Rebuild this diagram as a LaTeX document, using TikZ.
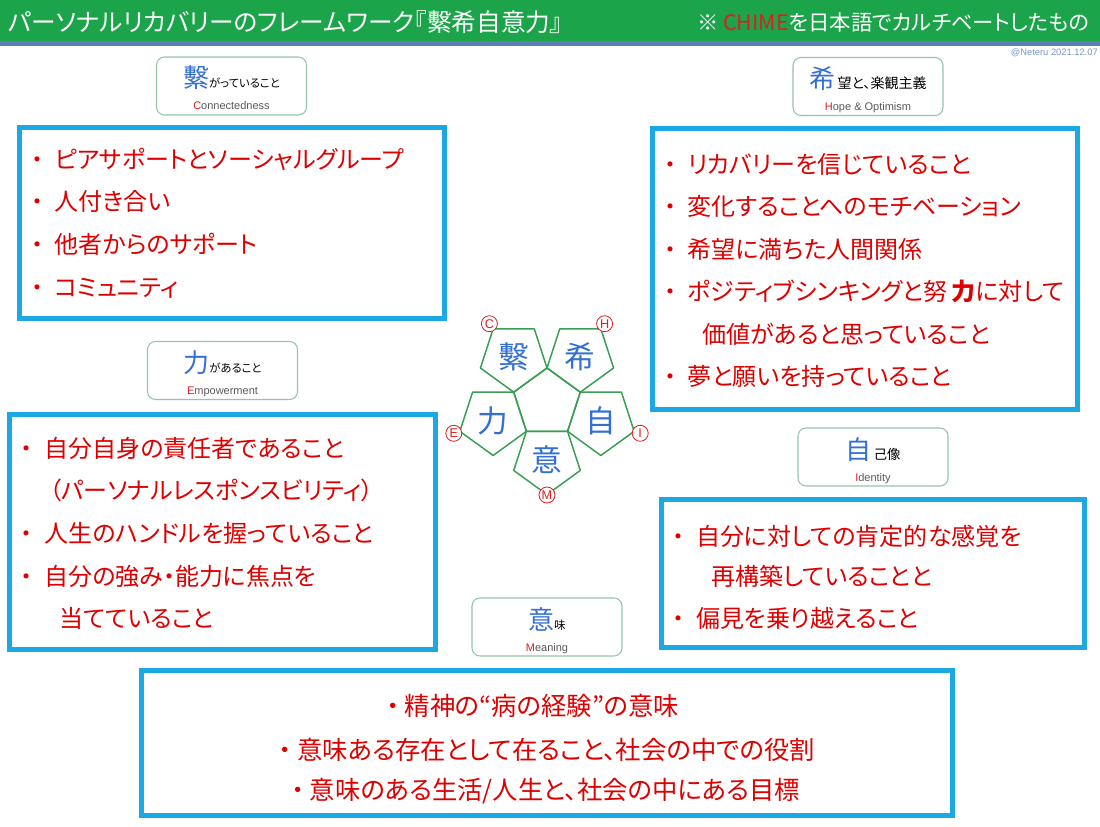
\documentclass[tikz,border=0pt]{standalone}
\usepackage{fontspec}
\setmainfont{Noto Sans CJK JP}[RawFeature=+palt]
\newfontfamily\enfont{Liberation Sans}
\usetikzlibrary{calc}
\definecolor{hdrgreen}{RGB}{28,164,74}
\definecolor{hdrstripe}{RGB}{90,125,180}
\definecolor{boxblue}{RGB}{28,168,226}
\definecolor{itemred}{RGB}{222,0,0}
\definecolor{kanjiblue}{RGB}{52,112,212}
\definecolor{pentgreen}{RGB}{56,158,82}
\definecolor{lblborder}{RGB}{150,196,170}
\definecolor{engray}{RGB}{90,90,90}
\definecolor{capred}{RGB}{220,30,30}
\definecolor{creditblue}{RGB}{120,150,200}
\newcommand\bul{\makebox[26.25pt][c]{・}}
\newcommand\cbul{・\hspace{4pt}}
\newcommand\contind{\hspace{37.5pt}}
\begin{document}
\begin{tikzpicture}[x=0.75pt,y=-0.75pt,
 bigbox/.style={draw=boxblue,line width=3.75pt,fill=white,inner sep=0pt},
 item/.style={anchor=base west,inner sep=0pt,text=itemred,font=\fontsize{18}{20}\selectfont},
 citem/.style={anchor=base,inner sep=0pt,text=itemred,font=\fontsize{19}{21}\selectfont},
 lblbox/.style={draw=lblborder,line width=0.8pt,rounded corners=6pt,fill=white,minimum width=112.5pt,minimum height=43.5pt,inner sep=0pt},
 lblone/.style={anchor=base,inner sep=0pt},
 lbltwo/.style={anchor=base,inner sep=0pt,text=engray,font=\enfont\fontsize{8.25}{9}\selectfont},
 pent/.style={draw=pentgreen,line width=1.1pt,line join=round},
 pk/.style={inner sep=0pt,text=kanjiblue,font=\fontsize{23}{24}\selectfont},
 lettercirc/.style={circle,draw=capred,line width=0.6pt,fill=white,minimum size=12pt,inner sep=0pt,text=capred,font=\enfont\fontsize{9.5}{10}\selectfont}
]
\useasboundingbox (0,0) rectangle (1100,827);
\fill[white] (0,0) rectangle (1100,827);
% header
\fill[hdrgreen] (0,0) rectangle (1100,41);
\fill[hdrstripe] (0,41) rectangle (1100,46);
\node[anchor=west,inner sep=0pt,text=white,font=\fontsize{18.5}{20}\selectfont] (title) at (8,22) {パーソナルリカバリーのフレームワーク『繫希自意力』};
\node[anchor=west,inner sep=0pt,text=white,font=\fontsize{16}{17}\selectfont] (subtitle) at (697,22) {※ \textcolor{capred}{CHIME}を日本語でカルチベートしたもの};
\node[anchor=east,inner sep=0pt,text=creditblue,font=\enfont\fontsize{7}{8}\selectfont] (credit) at (1098,53) {@Neteru 2021.12.07};

% big boxes
\node[bigbox,minimum width=318.4pt,minimum height=143.6pt] (bC) at (231.75,223.25) {};
\node[bigbox,minimum width=318.75pt,minimum height=210pt] (bH) at (865,269) {};
\node[bigbox,minimum width=319.5pt,minimum height=176.6pt] (bE) at (222,531.75) {};
\node[bigbox,minimum width=317.6pt,minimum height=111pt] (bI) at (873.25,573.5) {};
\node[bigbox,minimum width=608.25pt,minimum height=108.75pt] (bM) at (547,743) {};

% items: Connectedness
\node[item] (c1) at (19.5,169) {\bul ピアサポートとソーシャルグループ};
\node[item] (c2) at (19.5,210.7) {\bul 人付き合い};
\node[item] (c3) at (19.5,254) {\bul 他者からのサポート};
\node[item] (c4) at (19.5,297) {\bul コミュニティ};
% Hope
\node[item] (h1) at (652.5,174) {\bul リカバリーを信じていること};
\node[item] (h2) at (652.5,215.7) {\bul 変化することへのモチベーション};
\node[item] (h3) at (652.5,259) {\bul 希望に満ちた人間関係};
\node[item] (h4) at (652.5,300.7) {\bul ポジティブシンキングと努\,{\bfseries 力}に対して};
\node[item] (h5) at (652.5,344) {\contind 価値があると思っていること};
\node[item] (h6) at (652.5,385.7) {\bul 夢と願いを持っていること};
% Empowerment
\node[item] (e1) at (9.2,457.3) {\bul 自分自身の責任者であること};
\node[item] (e2) at (9.2,499) {\hspace{30pt}（パーソナルレスポンスビリティ）};
\node[item] (e3) at (9.2,542.3) {\bul 人生のハンドルを握っていること};
\node[item] (e4) at (9.2,585.7) {\bul 自分の強み・能力に焦点を};
\node[item] (e5) at (9.2,627.3) {\contind 当てていること};
% Identity
\node[item] (i1) at (660.8,545.7) {\bul 自分に対しての肯定的な感覚を};
\node[item] (i2) at (660.8,585.7) {\contind 再構築していることと};
\node[item] (i3) at (660.8,627.3) {\bul 偏見を乗り越えること};
% Meaning
\node[citem] (m1) at (533,715.7) {\cbul 精神の“病の経験”の意味};
\node[citem] (m2) at (547,759) {\cbul 意味ある存在として在ること、社会の中での役割};
\node[citem] (m3) at (546,799) {\cbul 意味のある生活/人生と、社会の中にある目標};

% label boxes
\node[lblbox] (lC) at (231.5,86) {};
\node[lblone] (lCa) at ($(lC.center)+(0,2)$) {{\color{kanjiblue}\fontsize{19.5}{20}\selectfont 繫}{\fontsize{8.5}{9}\selectfont がっていること}};
\node[lbltwo] (lCb) at ($(lC.center)+(0,24)$) {\textcolor{capred}{C}onnectedness};

\node[lblbox] (lH) at (868,86.5) {};
\node[lblone] (lHa) at ($(lH.center)+(0,2)$) {{\color{kanjiblue}\fontsize{19.5}{20}\selectfont 希}\,{\fontsize{10.5}{11}\selectfont 望と、楽観主義}};
\node[lbltwo] (lHb) at ($(lH.center)+(0,24)$) {\textcolor{capred}{H}ope \& Optimism};

\node[lblbox] (lE) at (222.5,370.5) {};
\node[lblone] (lEa) at ($(lE.center)+(0,2)$) {{\color{kanjiblue}\fontsize{19.5}{20}\selectfont 力}{\fontsize{8.5}{9}\selectfont があること}};
\node[lbltwo] (lEb) at ($(lE.center)+(0,24)$) {\textcolor{capred}{E}mpowerment};

\node[lblbox] (lI) at (873,457) {};
\node[lblone] (lIa) at ($(lI.center)+(0,2)$) {{\color{kanjiblue}\fontsize{19.5}{20}\selectfont 自}\,{\fontsize{10}{11}\selectfont 己像}};
\node[lbltwo] (lIb) at ($(lI.center)+(0,24)$) {\textcolor{capred}{I}dentity};

\node[lblbox] (lM) at (547,627) {};
\node[lblone] (lMa) at ($(lM.center)+(0,2)$) {{\color{kanjiblue}\fontsize{19.5}{20}\selectfont 意}{\fontsize{8.5}{9}\selectfont 味}};
\node[lbltwo] (lMb) at ($(lM.center)+(0,24)$) {\textcolor{capred}{M}eaning};

% pentagon figure
\begin{scope}[shift={(547,403)},y=0.75pt]
  \draw[pent] (90:35)--(162:35)--(234:35)--(306:35)--(18:35)--cycle;
  \foreach \t in {126,54,198,342,270}{
    \begin{scope}[shift={(\t:56.63)}]
      \draw[pent] (\t:35)--(\t+72:35)--(\t+144:35)--(\t+216:35)--(\t+288:35)--cycle;
    \end{scope}
  }
  \node[pk] (pC) at (126:56.63) {繫};
  \node[pk] (pH) at (54:56.63) {希};
  \node[pk] (pE) at (198:56.63) {力};
  \node[pk] (pI) at (342:56.63) {自};
  \node[pk] (pM) at (270:56.63) {意};
  \node[lettercirc] (cC) at (126:98) {C};
  \node[lettercirc] (cH) at (54:98) {H};
  \node[lettercirc] (cE) at (198:98) {E};
  \node[lettercirc] (cI) at (342:98) {I};
  \node[lettercirc] (cM) at (270:92) {M};
\end{scope}
\end{tikzpicture}
\end{document}
